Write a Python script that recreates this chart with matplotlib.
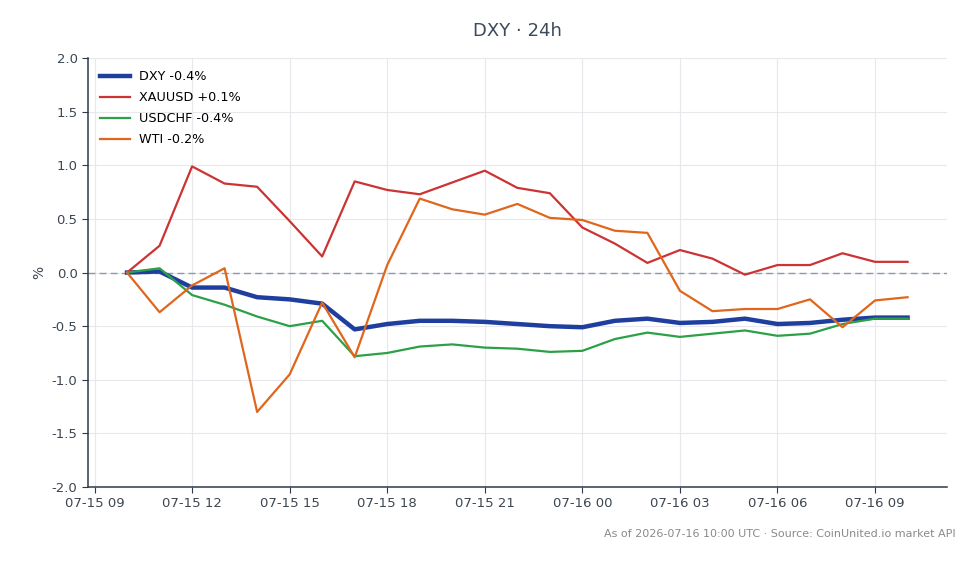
import numpy as np
import pandas as pd
import matplotlib
matplotlib.use("Agg")
import matplotlib.pyplot as plt
import matplotlib.dates as mdates

# hourly % change vs. start, 07-15 10:00 -> 07-16 10:00 UTC
times = pd.date_range("2026-07-15 10:00", "2026-07-16 10:00", freq="h")

dxy = [0.00, 0.01, -0.14, -0.14, -0.23, -0.25, -0.29, -0.53, -0.48, -0.45,
       -0.45, -0.46, -0.48, -0.50, -0.51, -0.45, -0.43, -0.47, -0.46, -0.43,
       -0.48, -0.47, -0.44, -0.42, -0.42]
xauusd = [0.00, 0.25, 0.99, 0.83, 0.80, 0.48, 0.15, 0.85, 0.77, 0.73,
          0.84, 0.95, 0.79, 0.74, 0.42, 0.27, 0.09, 0.21, 0.13, -0.02,
          0.07, 0.07, 0.18, 0.10, 0.10]
usdchf = [0.00, 0.04, -0.21, -0.30, -0.41, -0.50, -0.45, -0.78, -0.75, -0.69,
          -0.67, -0.70, -0.71, -0.74, -0.73, -0.62, -0.56, -0.60, -0.57, -0.54,
          -0.59, -0.57, -0.48, -0.43, -0.43]
wti = [0.00, -0.37, -0.12, 0.04, -1.30, -0.95, -0.28, -0.79, 0.07, 0.69,
       0.59, 0.54, 0.64, 0.51, 0.49, 0.39, 0.37, -0.17, -0.36, -0.34,
       -0.34, -0.25, -0.51, -0.26, -0.23]

series = [
    ("DXY", dxy, "#1f3f9f", 3.2),
    ("XAUUSD", xauusd, "#cc3333", 1.6),
    ("USDCHF", usdchf, "#2ca048", 1.6),
    ("WTI", wti, "#e0661c", 1.6),
]

fig = plt.figure(figsize=(9.79, 5.64), dpi=100)
ax = fig.add_axes([0.0899, 0.1365, 0.877, 0.7605])
ax.set_axisbelow(True)

for name, vals, color, lw in series:
    last = vals[-1]
    ax.plot(times, vals, color=color, lw=lw, label=f"{name} {last:+.1f}%", zorder=3)
ax.axhline(0, color="#8a9aac", lw=1, ls=(0, (5, 3)), zorder=2)

ax.set_ylim(-2.0, 2.0)
ax.set_yticks(np.arange(-2.0, 2.01, 0.5))
ax.yaxis.set_major_formatter(matplotlib.ticker.FormatStrFormatter("%.1f"))
ax.xaxis.set_major_locator(mdates.HourLocator(byhour=range(0, 24, 3)))
ax.xaxis.set_major_formatter(mdates.DateFormatter("%m-%d %H"))
ax.margins(x=0.05)

ax.grid(True, color="#e8e8ec", lw=0.8)
for s in ["top", "right"]:
    ax.spines[s].set_visible(False)
for s in ["left", "bottom"]:
    ax.spines[s].set_color("#2e3a48")
    ax.spines[s].set_linewidth(1.1)
ax.tick_params(colors="#2e3a48", labelcolor="#3c4650", labelsize=9.5, length=4)

ax.set_ylabel("%", color="#3c4650", fontsize=10)
ax.set_title("DXY · 24h", color="#3c4a5a", fontsize=13, pad=16)

ax.legend(loc="upper left", frameon=False, fontsize=9.2, handlelength=2.3,
          handletextpad=0.75, labelspacing=0.62, borderaxespad=0.55)

fig.text(0.976, 0.054, "As of 2026-07-16 10:00 UTC · Source: CoinUnited.io market API",
         ha="right", va="center", fontsize=8, color="#8a8a8a")

fig.savefig("out.png", dpi=100)
